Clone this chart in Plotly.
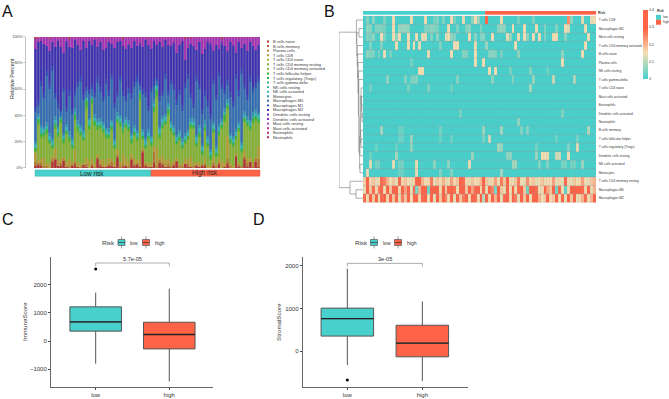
import colorsys
import plotly.graph_objects as go

W, H = 669, 399
TURQ, TOMATO, WHEAT = "#48D1CC", "#FF6347", "#F5DEB3"
FONT = "Liberation Sans"
N = 80


def sparse(cells):
    return [cells.get(i, 0) for i in range(N)]


# ---------- Panel A data (percent) ----------
cell_types = ["B cells naive", "B cells memory", "Plasma cells", "T cells CD8", "T cells CD4 naive",
              "T cells CD4 memory resting", "T cells CD4 memory activated", "T cells follicular helper",
              "T cells regulatory (Tregs)", "T cells gamma delta", "NK cells resting", "NK cells activated",
              "Monocytes", "Macrophages M0", "Macrophages M1", "Macrophages M2", "Dendritic cells resting",
              "Dendritic cells activated", "Mast cells resting", "Mast cells activated", "Eosinophils", "Neutrophils"]

b_naive = [2,3,2,0,1,0,5,7,2,2, 6,1,1,2,2,1,0,3,1,0, 2,0,7,2,1,1,2,2,1,8, 1,1,2,1,6,2,3,1,12,2,
           1,1,4,1,4,3,1,1,1,2, 5,1,1,3,1,1,1,2,1,2, 2,0,1,2,1,4,0,1,3,1, 1,9,1,1,7,1,5,0,5,1]
plasma = [3,1,2,1,1,0,2,1,0,2, 1,0,1,1,2,0,1,0,2,0, 1,1,2,1,0,0,1,3,0,1, 1,2,0,1,2,1,1,0,1,1,
          0,0,8,1,3,1,0,2,1,1, 0,1,1,0,2,0,1,1,0,1, 1,0,0,2,1,1,0,0,3,1, 0,1,2,1,1,3,0,1,2,6]
t_cd8 = [7,2,3,6,2,3,2,8,4,3, 2,4,5,2,9,3,2,1,5,6, 4,3,2,3,6,3,5,2,4,4, 3,8,6,4,3,5,2,6,2,2,
         3,4,4,14,1,6,5,4,2,3, 2,1,2,4,3,8,2,1,4,0, 5,2,1,4,1,3,6,3,18,2, 1,2,1,0,4,4,3,3,2,10]
t_resting = [1,27,17,16,22,16,6,15,18,28, 10,21,14,10,24,24,22,17,36,24, 40,28,19,24,20,19,15,22,10,21,
             27,16,23,23,8,17,15,46,6,10, 18,12,26,39,15,21,27,34,24,19, 10,18,11,12,16,22,26,13,19,7,
             21,15,5,19,6,17,25,32,21,15, 15,10,24,10,23,24,21,31,27,17]
t_activated = [1,1,1,1,1,1,1,1,1,1, 1,1,1,1,1,1,1,1,2,1, 1,1,1,1,1,1,1,1,1,1, 1,1,1,1,1,1,1,3,1,1,
               1,1,2,2,1,1,1,1,1,1, 1,1,1,1,1,1,1,1,1,1, 1,1,1,1,1,1,1,1,1,1, 1,1,1,1,1,1,1,1,1,1]
t_follicular = [1,2,1,1,2,1,1,1,1,2, 1,1,1,1,1,2,1,1,3,1, 2,2,1,1,1,1,1,1,1,1, 1,1,1,1,1,1,1,2,1,1,
                1,1,1,1,1,1,1,2,1,1, 1,1,1,1,1,1,1,1,1,1, 1,1,1,1,1,1,1,2,1,1, 1,1,1,1,1,1,1,1,2,1]
t_regs = [1,1,1,1,1,1,1,1,1,1, 1,1,1,1,2,1,1,1,2,1, 1,1,1,1,1,1,1,1,1,1, 1,1,1,1,1,1,1,2,1,1,
          1,1,2,3,1,1,1,2,1,1, 1,1,1,1,1,1,1,1,1,1, 1,1,1,1,1,1,1,3,1,1, 1,1,1,1,1,1,1,1,1,1]
nk_activated = [3,2,3,3,2,3,3,2,3,1, 3,3,2,3,2,2,3,3,1,3, 1,2,3,2,3,3,2,3,3,2, 3,2,3,2,3,3,3,1,3,3,
                2,3,2,1,3,2,3,2,3,3, 3,3,2,3,3,2,2,3,3,3, 2,3,3,3,3,3,2,2,2,3, 3,3,2,3,2,2,3,2,2,3]
monocytes = [2,2,2,2,3,2,2,3,2,1, 2,2,3,2,3,3,2,2,1,2, 1,3,2,3,2,2,3,2,2,3, 2,3,2,3,2,2,2,1,2,2,
             3,2,3,1,2,3,2,3,2,2, 2,2,3,2,2,3,3,2,2,2, 3,2,2,2,2,2,3,3,3,2, 2,2,3,2,3,3,2,3,3,2]
macro_m0 = [22,6,30,22,35,34,51,14,14,3, 31,9,27,18,9,25,33,23,4,18, 5,13,28,20,16,33,25,31,23,12,
            26,21,12,21,26,29,37,3,27,31, 14,33,11,3,20,15,27,6,28,27, 23,27,21,35,38,15,8,41,28,23,
            19,23,23,29,35,37,23,11,11,27, 23,38,20,52,17,12,29,15,16,23]
macro_m1 = [4,4,4,4,4,4,4,4,4,2, 4,4,4,4,4,4,4,4,3,4, 3,4,4,4,4,4,4,4,4,4, 4,4,4,4,4,4,4,2,4,4,
            4,4,4,2,4,4,4,4,4,4, 4,4,4,4,4,4,4,4,4,4, 4,4,4,4,4,4,4,4,4,4, 4,4,4,4,4,4,4,4,4,4]
macro_m2 = [45,44,31,38,19,25,18,35,47,49, 26,50,33,47,40,28,20,41,30,37, 29,40,23,34,35,24,37,23,42,38,
            27,34,36,33,35,31,23,31,32,40, 47,29,31,26,41,34,26,35,25,32, 36,34,49,17,20,38,43,20,32,42,
            32,45,53,21,38,17,31,33,22,38, 42,16,37,16,31,33,26,31,25,24]
mast_resting = [8,3,3,5,7,10,4,8,3,7, 12,3,7,8,2,6,10,3,8,3, 6,2,7,4,10,8,3,5,8,4, 3,6,9,5,8,3,7,4,8,2,
                5,9,3,6,4,8,2,5,7,4, 12,6,3,17,8,4,7,10,4,13, 8,3,5,11,6,9,3,7,10,4, 6,12,3,8,5,11,4,7,10,6]
b_memory = sparse({3: 1, 14: 1, 29: 1, 38: 1, 42: 1, 50: 1, 68: 1, 74: 1})
t_naive = sparse({})
t_gamma = sparse({7: 1, 18: 1, 30: 1, 44: 1, 58: 1, 65: 1})
nk_resting = sparse({2: 1, 19: 1, 43: 2, 45: 2, 57: 1})
dc_resting = sparse({11: 1, 37: 1, 49: 1, 61: 2, 62: 2, 66: 2, 70: 2})
dc_activated = sparse({33: 1, 68: 1})
mast_activated = sparse({1: 1, 9: 1, 22: 1, 37: 1, 40: 1, 47: 1, 60: 1, 72: 1})
eosinophils = sparse({5: 1, 26: 1, 55: 1})
neutrophils = sparse({0: 1, 12: 1, 31: 1, 53: 1, 66: 1})

stack_values = [b_naive, b_memory, plasma, t_cd8, t_naive, t_resting, t_activated, t_follicular, t_regs,
                t_gamma, nk_resting, nk_activated, monocytes, macro_m0, macro_m1, macro_m2, dc_resting,
                dc_activated, mast_resting, mast_activated, eosinophils, neutrophils]
percent_ticks = [0, 20, 40, 60, 80, 100]

# ---------- Panel B data (hundredths of a fraction) ----------
heat_rows = ["T cells CD8", "Macrophages M1", "Mast cells resting", "T cells CD4 memory activated", "B cells naive",
             "Plasma cells", "NK cells resting", "T cells gamma delta", "T cells CD4 naive", "Mast cells activated",
             "Eosinophils", "Dendritic cells activated", "Neutrophils", "B cells memory", "T cells follicular helper",
             "T cells regulatory (Tregs)", "Dendritic cells resting", "NK cells activated", "Monocytes",
             "T cells CD4 memory resting", "Macrophages M0", "Macrophages M2"]
low_count, high_count = 42, 38

h_cd8 = sparse({1: 5, 3: 6, 7: 5, 10: 15, 16: 15, 21: 15, 24: 4, 25: 5, 27: 5, 30: 15, 31: 4, 34: 14, 37: 6, 38: 15, 39: 7,
                42: 38, 47: 15, 53: 4, 58: 5, 70: 24, 71: 6, 75: 14, 78: 14, 79: 15})
h_m1 = sparse({1: 6, 2: 6, 4: 5, 5: 5, 6: 5, 7: 4, 10: 15, 12: 7, 13: 7, 14: 7, 15: 6, 21: 5, 22: 5, 23: 6, 24: 5, 25: 4,
               29: 15, 32: 5, 35: 5, 36: 6, 40: 5, 46: 6, 47: 7, 48: 6, 51: 15, 55: 15, 59: 15, 62: 5, 66: 5, 69: 15, 70: 13, 76: 15})
h_mast = sparse({1: 5, 2: 4, 3: 6, 6: 15, 7: 5, 10: 15, 11: 6, 12: 15, 15: 15, 18: 15, 20: 14, 21: 14, 23: 5, 25: 6, 28: 14, 29: 15,
                 30: 6, 31: 5, 36: 15, 38: 6, 40: 5, 41: 6, 44: 15, 49: 14, 50: 7, 53: 15, 55: 15, 56: 6, 58: 15, 60: 15, 62: 5, 65: 15, 66: 15, 69: 6, 77: 15})
h_activated = sparse({2: 5, 6: 5, 11: 15, 15: 15, 17: 15, 19: 14, 26: 5, 31: 15, 32: 15, 38: 14, 42: 7, 52: 15, 76: 15})
h_b_naive = sparse({1: 6, 2: 5, 3: 5, 5: 4, 7: 15, 9: 4, 22: 14, 30: 15, 34: 5, 35: 5, 38: 15, 43: 5, 44: 6, 45: 5, 47: 4, 53: 6, 68: 6, 75: 15})
h_plasma = sparse({16: 4, 38: 15, 41: 15, 68: 15})
h_nk_rest = sparse({19: 15, 20: 15, 43: 15, 45: 15, 50: 4, 57: 5, 63: 3})
h_gamma = sparse({8: 6, 14: 5, 16: 4, 17: 5, 18: 5, 32: 5, 44: 6, 51: 5, 58: 7, 65: 11, 72: 9})
h_t_naive = sparse({2: 4, 15: 4, 22: 5, 30: 3, 57: 8})
h_mast_act = sparse({})
h_eos = sparse({})
h_dc_act = sparse({33: 4, 68: 5})
h_neut = sparse({53: 6})
h_b_mem = sparse({6: 8, 12: 3, 13: 3, 26: 4, 41: 7, 47: 8, 54: 5, 56: 5, 77: 9})
h_tfh = sparse({12: 3, 13: 3, 16: 7, 26: 3, 30: 3, 41: 4, 43: 12, 66: 3, 73: 4})
h_tregs = sparse({4: 3, 11: 3, 16: 6, 46: 8, 47: 7, 59: 4, 70: 5, 73: 13})
h_dc_rest = sparse({2: 3, 11: 8, 37: 7, 49: 6, 50: 6, 59: 7, 61: 15, 62: 15, 63: 14, 66: 12, 67: 12, 70: 15})
h_nk_act = sparse({2: 13, 4: 4, 5: 4, 10: 14, 12: 4, 13: 4, 18: 14, 24: 6, 29: 6, 36: 14, 51: 8, 52: 8, 60: 5, 63: 5, 68: 4, 69: 4, 71: 4, 72: 4, 75: 7})
h_mono = sparse({1: 14, 12: 3, 13: 3, 18: 14, 26: 5, 30: 5, 47: 8})
h_resting = [17,30,16,18,14,16,28,26,20,15, 18,14,28,16,18,15,14,16,30,30, 20,15,16,26,14,18,15,20,16,14,
             22,16,18,30,28,16,14,18,15,16, 20,30,18,14,16,22,15,26,18,30, 16,14,18,26,15,14,24,16,18,14,
             15,18,14,16,15,22,14,16,14,28, 16,14,18,15,16,22,15,14,18,20]
h_m0 = [14,30,18,28,16,26,32,15,30,18, 30,35,16,30,22,32,14,28,5,20, 32,30,3,32,34,30,16,30,18,30,
        32,28,15,30,35,18,30,22,28,32, 16,30,14,30,25,4,30,18,14,30, 15,35,16,28,30,18,4,32,30,28,
        14,16,30,22,18,32,4,28,15,2, 16,30,32,34,30,28,16,30,14,20]
h_m2 = [28,16,32,18,30,14,28,30,16,35, 18,30,14,26,18,32,15,34,30,16, 28,32,15,30,14,34,18,30,25,16,
        32,14,30,18,26,30,15,32,28,16, 30,10,32,16,30,20,34,14,28,30, 16,32,26,14,30,18,32,15,30,34,
        20,15,18,30,16,18,32,15,28,14, 30,18,32,14,16,20,28,15,20,30]
heat_values = [h_cd8, h_m1, h_mast, h_activated, h_b_naive, h_plasma, h_nk_rest, h_gamma, h_t_naive, h_mast_act,
               h_eos, h_dc_act, h_neut, h_b_mem, h_tfh, h_tregs, h_dc_rest, h_nk_act, h_mono, h_resting, h_m0, h_m2]

# Row clustering: (merge height, left child, right child); leaves are row indices.
middle_tree = (2.6, (1.9, 8, (1.5, 9, (1.2, 10, (0.9, 11, 12)))), (2.3, 13, (2.0, 14, 15)))
lower_tree = (3.4, (3.1, middle_tree, 16), (3.0, 17, 18))
upper_tree = (6.6, 0, (6.2, (4.0, 1, 2), (5.8, 3, (5.4, 4, (5.0, 5, (4.6, 6, (4.2, 7, lower_tree)))))))
tree = (24.0, upper_tree, (13.0, 19, (7.0, 20, 21)))

# ---------- Panels C and D data ----------
groups = ["low", "high"]
immune_box = dict(q1=[351, -281], median=[678, 232], q3=[1216, 668], lo=[-808, -1441], hi=[1722, 1863])
immune_outliers = [2565]
stromal_box = dict(q1=[355, -129], median=[762, 193], q3=[1008, 608], lo=[-323, -692], hi=[1931, 1163])
stromal_outliers = [-669]
immune_ticks = [-1000, 0, 1000, 2000]
stromal_ticks = [0, 1000, 2000]


# ---------- helpers ----------
def px(x):
    return x / W


def py(y):
    return 1 - y / H


def dom_x(a, b):
    return [px(a), px(b)]


def dom_y(top, bottom):
    return [py(bottom), py(top)]


annotations, shapes = [], []


def text(x, y, s, size, color="#333333", anchor="center", angle=0):
    annotations.append(dict(x=px(x), y=py(y), xref="paper", yref="paper", text=s, showarrow=False,
                            xanchor=anchor, yanchor="middle", textangle=angle, borderpad=0,
                            font=dict(size=size, color=color, family=FONT)))


def rect(x0, y0, x1, y1, fill, line="rgba(0,0,0,0)", width=0):
    shapes.append(dict(type="rect", xref="paper", yref="paper", x0=px(x0), x1=px(x1), y0=py(y0), y1=py(y1),
                       fillcolor=fill, line=dict(color=line, width=width)))


def seg(x0, y0, x1, y1, color, width=0.7):
    shapes.append(dict(type="line", xref="paper", yref="paper", x0=px(x0), x1=px(x1), y0=py(y0), y1=py(y1),
                       line=dict(color=color, width=width)))


fig = go.Figure()

# ---------- A: stacked bars ----------
samples = list(range(N))
for i, (name, vals) in enumerate(zip(cell_types, stack_values)):
    r, g, b = colorsys.hsv_to_rgb(i / 22, 0.72, 0.70)
    col = f"rgb({int(r*255)},{int(g*255)},{int(b*255)})"
    fig.add_trace(go.Bar(x=samples, y=vals, name=name, marker=dict(color=col, line=dict(width=0)),
                         showlegend=False, xaxis="x", yaxis="y"))
    ly = 39 + i * 4.62
    rect(267, ly - 1, 269, ly + 1, col)
    text(272, ly, name, 3.9, anchor="left")
stripe_x, stripe_y = [], []
for c in range(N + 1):
    stripe_x += [c - 0.5, c - 0.5, None]
    stripe_y += [0, 100, None]
fig.add_trace(go.Scatter(x=stripe_x, y=stripe_y, mode="lines", line=dict(color="rgba(180,180,180,0.6)", width=0.7),
                         xaxis="x", yaxis="y", showlegend=False, hoverinfo="skip"))
text(12, 77, "Relative Percent", 5.5, angle=-90)
rect(35, 169, 151, 175.5, TURQ, "#3AA8A4", 0.4)
rect(151, 169, 260, 175.5, TOMATO, "#D9543B", 0.4)
text(92, 172.3, "Low risk", 6.4, "#222222")
text(205, 172.3, "High risk", 6.4, "#222222")

# ---------- B: heatmap ----------
scale = [[0, TURQ], [0.38, WHEAT], [0.72, TOMATO], [1, TOMATO]]
fig.add_trace(go.Heatmap(z=[[v / 100 for v in row] for row in heat_values], x=samples, y=list(range(len(heat_rows))),
                         zmin=0, zmax=0.4, colorscale=scale, xaxis="x3", yaxis="y3", hoverinfo="skip",
                         colorbar=dict(x=px(643), xanchor="left", xpad=0, y=py(7), yanchor="top", ypad=0,
                                       lenmode="pixels", len=69, thicknessmode="pixels", thickness=5,
                                       outlinewidth=0, ticks="", tickvals=[0, 0.1, 0.2, 0.3, 0.4],
                                       ticktext=["0", "0.1", "0.2", "0.3", "0.4"],
                                       tickfont=dict(size=3.4, family=FONT, color="#333333"))))
risk_codes = [0] * low_count + [1] * high_count
fig.add_trace(go.Heatmap(z=[risk_codes], x=samples, y=[0], zmin=0, zmax=1, showscale=False,
                         colorscale=[[0, TURQ], [1, TOMATO]], xaxis="x2", yaxis="y2", hoverinfo="skip"))
grid_v_x, grid_v_y, grid_h_x, grid_h_y = [], [], [], []
for c in range(N + 1):
    grid_v_x += [c - 0.5, c - 0.5, None]
    grid_v_y += [-0.5, len(heat_rows) - 0.5, None]
for r_i in range(len(heat_rows) + 1):
    grid_h_x += [-0.5, N - 0.5, None]
    grid_h_y += [r_i - 0.5, r_i - 0.5, None]
fig.add_trace(go.Scatter(x=grid_v_x, y=grid_v_y, mode="lines", line=dict(color="rgba(140,150,150,0.28)", width=0.5),
                         xaxis="x3", yaxis="y3", showlegend=False, hoverinfo="skip"))
fig.add_trace(go.Scatter(x=grid_h_x, y=grid_h_y, mode="lines", line=dict(color="rgba(150,150,150,0.55)", width=0.6),
                         xaxis="x3", yaxis="y3", showlegend=False, hoverinfo="skip"))

dx, dy = [], []


def walk(node):
    if isinstance(node, int):
        return 0.0, float(node)
    h, left, right = node
    lh, ly_ = walk(left)
    rh, ry_ = walk(right)
    dx.extend([lh, h, h, rh, None])
    dy.extend([ly_, ly_, ry_, ry_, None])
    return h, (ly_ + ry_) / 2


walk(tree)
fig.add_trace(go.Scatter(x=dx, y=dy, mode="lines", line=dict(color="#777777", width=0.6),
                         xaxis="x4", yaxis="y3", showlegend=False, hoverinfo="skip"))
text(597, 10, "<b>Risk</b>", 3.3, anchor="left")
text(656, 8.5, "<b>Risk</b>", 3.2, anchor="left")
rect(656, 12, 661, 17, TURQ)
rect(656, 17, 661, 22, TOMATO)
text(662, 14.5, "low", 3.2, anchor="left")
text(662, 19.5, "high", 3.2, anchor="left")


# ---------- C, D: box plots ----------
def box_panel(stats, outliers, xa, ya):
    for i, col in enumerate([TURQ, TOMATO]):
        fig.add_trace(go.Box(x=[i], q1=[stats["q1"][i]], median=[stats["median"][i]], q3=[stats["q3"][i]],
                             lowerfence=[stats["lo"][i]], upperfence=[stats["hi"][i]], width=0.7, whiskerwidth=0,
                             fillcolor=col, line=dict(color="#555555", width=1), boxpoints=False,
                             xaxis=xa, yaxis=ya, showlegend=False, hoverinfo="skip"))
        fig.add_trace(go.Scatter(x=[i - 0.35, i + 0.35], y=[stats["median"][i]] * 2, mode="lines",
                                 line=dict(color="#222222", width=1.3), xaxis=xa, yaxis=ya,
                                 showlegend=False, hoverinfo="skip"))
    fig.add_trace(go.Scatter(x=[0] * len(outliers), y=outliers, mode="markers", marker=dict(color="black", size=3),
                             xaxis=xa, yaxis=ya, showlegend=False, hoverinfo="skip"))


box_panel(immune_box, immune_outliers, "x5", "y5")
box_panel(stromal_box, stromal_outliers, "x6", "y6")


def bracket(xa, ya, top, drop):
    fig.add_trace(go.Scatter(x=[0, 0, 1, 1], y=[drop, top, top, drop], mode="lines",
                             line=dict(color="#8a8a8a", width=0.7), xaxis=xa, yaxis=ya,
                             showlegend=False, hoverinfo="skip"))


bracket("x5", "y5", 2777, 2660)
bracket("x6", "y6", 2053, 1977)
text(132, 259.7, "5.7e-05", 5.6)
text(385, 259.7, "3e-05", 5.6)
text(25, 323, "ImmuneScore", 6.2, angle=-90)
text(279, 323, "StromalScore", 6.2, angle=-90)


def key(x0, col):
    seg(x0 + 3.5, 236.5, x0 + 3.5, 248.5, "#555555", 0.6)
    rect(x0, 239.5, x0 + 7, 245.5, col, "#555555", 0.7)
    seg(x0, 242.5, x0 + 7, 242.5, "#333333", 0.7)


text(101, 242.7, "Risk", 6.2, anchor="left")
key(118, TURQ)
text(129, 243, "low", 5, anchor="left")
key(142.5, TOMATO)
text(153.5, 243, "high", 5, anchor="left")
text(353.5, 242.7, "Risk", 6.2, anchor="left")
key(370.5, TURQ)
text(382, 243, "low", 5, anchor="left")
key(394.5, TOMATO)
text(406, 243, "high", 5, anchor="left")

text(1, 9, "A", 16, "#111111", anchor="left")
text(323, 9, "B", 16, "#111111", anchor="left")
text(1, 219, "C", 16, "#111111", anchor="left")
text(252, 219, "D", 16, "#111111", anchor="left")

hidden = dict(visible=False, showgrid=False, zeroline=False)
axis_common = dict(showgrid=False, zeroline=False, showline=True, linecolor="#666666", linewidth=1, ticks="outside",
                   ticklen=2, tickwidth=0.7, tickcolor="#444444", tickfont=dict(size=6, family=FONT, color="#333333"))

fig.update_layout(
    width=W, height=H, margin=dict(l=0, r=0, t=0, b=0), autosize=False, showlegend=False,
    paper_bgcolor="white", plot_bgcolor="white", barmode="stack", barnorm="percent", bargap=0,
    annotations=annotations, shapes=shapes,
    xaxis=dict(domain=dom_x(34, 260), range=[-0.5, N - 0.5], anchor="y", **hidden),
    yaxis=dict(domain=dom_y(34, 167), range=[0, 100], anchor="free", position=px(25), showgrid=False, zeroline=False,
               showline=True, linecolor="#c4c4c4", linewidth=1, ticks="outside", ticklen=2, tickwidth=0.6,
               tickcolor="#c4c4c4", tickvals=percent_ticks, ticktext=[f"{v}%" for v in percent_ticks],
               tickfont=dict(size=3.9, family=FONT, color="#444444")),
    xaxis2=dict(domain=dom_x(363, 596), range=[-0.5, N - 0.5], anchor="y2", **hidden),
    yaxis2=dict(domain=dom_y(8, 12), range=[-0.5, 0.5], anchor="x2", **hidden),
    xaxis3=dict(domain=dom_x(363, 596), range=[-0.5, N - 0.5], anchor="y3", **hidden),
    yaxis3=dict(domain=dom_y(13, 202), range=[len(heat_rows) - 0.5, -0.5], anchor="x3", side="right",
                tickmode="array", tickvals=list(range(len(heat_rows))), ticktext=heat_rows, showgrid=False,
                zeroline=False, showline=False, ticks="outside", ticklen=1, tickcolor="rgba(0,0,0,0)",
                tickfont=dict(size=3.25, family=FONT, color="#333333")),
    xaxis4=dict(domain=dom_x(339, 363), range=[24, 0], anchor="y3", **hidden),
    xaxis5=dict(domain=dom_x(51, 213), range=[-0.607, 1.594], anchor="y5", tickmode="array", tickvals=[0, 1],
                ticktext=groups, **axis_common),
    yaxis5=dict(domain=dom_y(257, 389), range=[-1641, 2998], anchor="x5", tickmode="array", tickvals=immune_ticks,
                ticktext=[str(v).replace("-", "\u2212") for v in immune_ticks], **axis_common),
    xaxis6=dict(domain=dom_x(302.7, 467.7), range=[-0.595, 1.605], anchor="y6", tickmode="array", tickvals=[0, 1],
                ticktext=groups, **axis_common),
    yaxis6=dict(domain=dom_y(257.3, 388.7), range=[-830, 2200], anchor="x6", tickmode="array", tickvals=stromal_ticks,
                ticktext=[str(v) for v in stromal_ticks], **axis_common),
)

fig.write_html("out.html", config={"displayModeBar": False, "responsive": False},
               post_script="document.body.style.margin='0';document.body.style.overflow='hidden';")
